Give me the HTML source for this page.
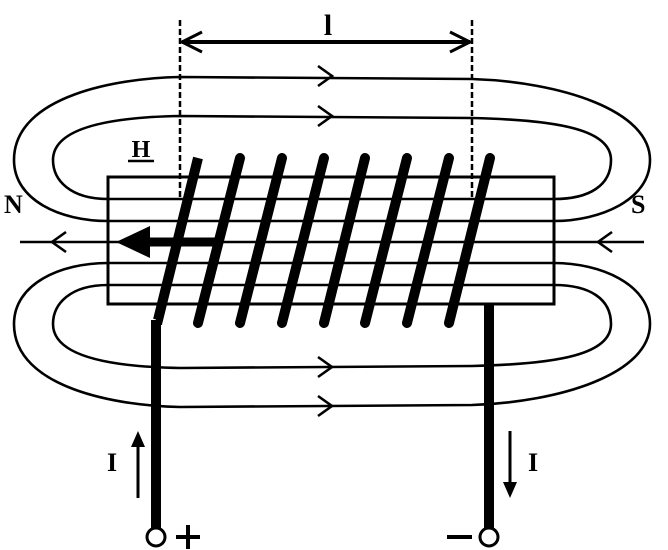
<!DOCTYPE html>
<html><head><style>html,body{margin:0;padding:0;background:#fff;}svg{display:block}</style></head>
<body>
<svg width="668" height="550" viewBox="0 0 668 550" xmlns="http://www.w3.org/2000/svg">
<g fill="none" stroke="#000" stroke-width="2.6">
<path d="M108,221 C60,221 14,200 14,160 C14,95 120,78 180,77 L472,79 C560,82 650,110 650,160 C650,200 600,221 554,221"/>
<path d="M108,199 C70,199 53,180 53,160 C53,125 120,117 180,116 L472,118 C560,120 611,130 611,160 C611,185 590,199 554,199"/>
<path d="M108,263 C60,263 14,284 14,324 C14,389 120,406 180,407 L472,405 C560,402 650,374 650,324 C650,284 600,263 554,263"/>
<path d="M108,285 C70,285 53,304 53,324 C53,359 120,367 180,368 L472,366 C560,364 611,354 611,324 C611,299 590,285 554,285"/>
<rect x="108" y="177" width="446" height="127" stroke-width="3"/>
<line x1="108" y1="199" x2="554" y2="199"/>
<line x1="108" y1="221" x2="554" y2="221"/>
<line x1="20" y1="242" x2="644" y2="242"/>
<line x1="108" y1="263" x2="554" y2="263"/>
<line x1="108" y1="285" x2="554" y2="285"/>
<polyline points="318,66 332,76 318,86"/>
<polyline points="318,106 332,116 318,126"/>
<polyline points="318,357 332,367 318,377"/>
<polyline points="318,396 332,406 318,416"/>
<polyline points="66,232 52,242 66,252"/>
<polyline points="612,232 598,242 612,252"/>
<line x1="180" y1="20" x2="180" y2="200" stroke-width="2.5" stroke-dasharray="6,3"/>
<line x1="472" y1="20" x2="472" y2="200" stroke-width="2.5" stroke-dasharray="6,3"/>
<line x1="182" y1="42" x2="470" y2="42" stroke-width="4"/>
<polyline points="202,32 182,42 202,52" stroke-width="3"/>
<polyline points="450,32 470,42 450,52" stroke-width="3"/>
</g>
<line x1="218" y1="242" x2="145" y2="242" stroke="#000" stroke-width="9"/>
<polygon points="116,242 150,226 150,258" fill="#000"/>
<g stroke="#000" stroke-width="10" stroke-linecap="round" fill="none">
<path d="M198,158 L158,320 L156,320" stroke-linecap="butt"/>
<line x1="240" y1="158" x2="198" y2="323"/>
<line x1="282" y1="158" x2="240" y2="323"/>
<line x1="324" y1="158" x2="282" y2="323"/>
<line x1="365" y1="158" x2="324" y2="323"/>
<line x1="407" y1="158" x2="365" y2="323"/>
<line x1="449" y1="158" x2="407" y2="323"/>
<line x1="490" y1="158" x2="449" y2="323"/>
<line x1="156" y1="320" x2="156" y2="528" stroke-linecap="butt"/>
<line x1="489" y1="304" x2="489" y2="528" stroke-linecap="butt"/>
</g>
<circle cx="156" cy="537" r="9" fill="#fff" stroke="#000" stroke-width="3"/>
<circle cx="489" cy="537" r="9" fill="#fff" stroke="#000" stroke-width="3"/>
<line x1="138" y1="498" x2="138" y2="445" stroke="#000" stroke-width="3"/>
<polygon points="138,431 131,447 145,447" fill="#000"/>
<line x1="510" y1="431" x2="510" y2="484" stroke="#000" stroke-width="3"/>
<polygon points="510,498 503,482 517,482" fill="#000"/>
<line x1="176" y1="537" x2="200" y2="537" stroke="#000" stroke-width="4"/>
<line x1="188" y1="525" x2="188" y2="549" stroke="#000" stroke-width="4"/>
<line x1="447" y1="537" x2="472" y2="537" stroke="#000" stroke-width="4"/>
<g font-family="Liberation Serif, serif" font-weight="bold" fill="#000">
<text x="328" y="35" font-size="30" text-anchor="middle">l</text>
<text x="141" y="157" font-size="24" text-anchor="middle">H</text>
<text x="4" y="213" font-size="26">N</text>
<text x="631" y="213" font-size="26">S</text>
<text x="112" y="471" font-size="26" text-anchor="middle">I</text>
<text x="533" y="471" font-size="26" text-anchor="middle">I</text>
</g>
<line x1="128" y1="161" x2="154" y2="161" stroke="#000" stroke-width="2.5"/>
</svg>
</body></html>
